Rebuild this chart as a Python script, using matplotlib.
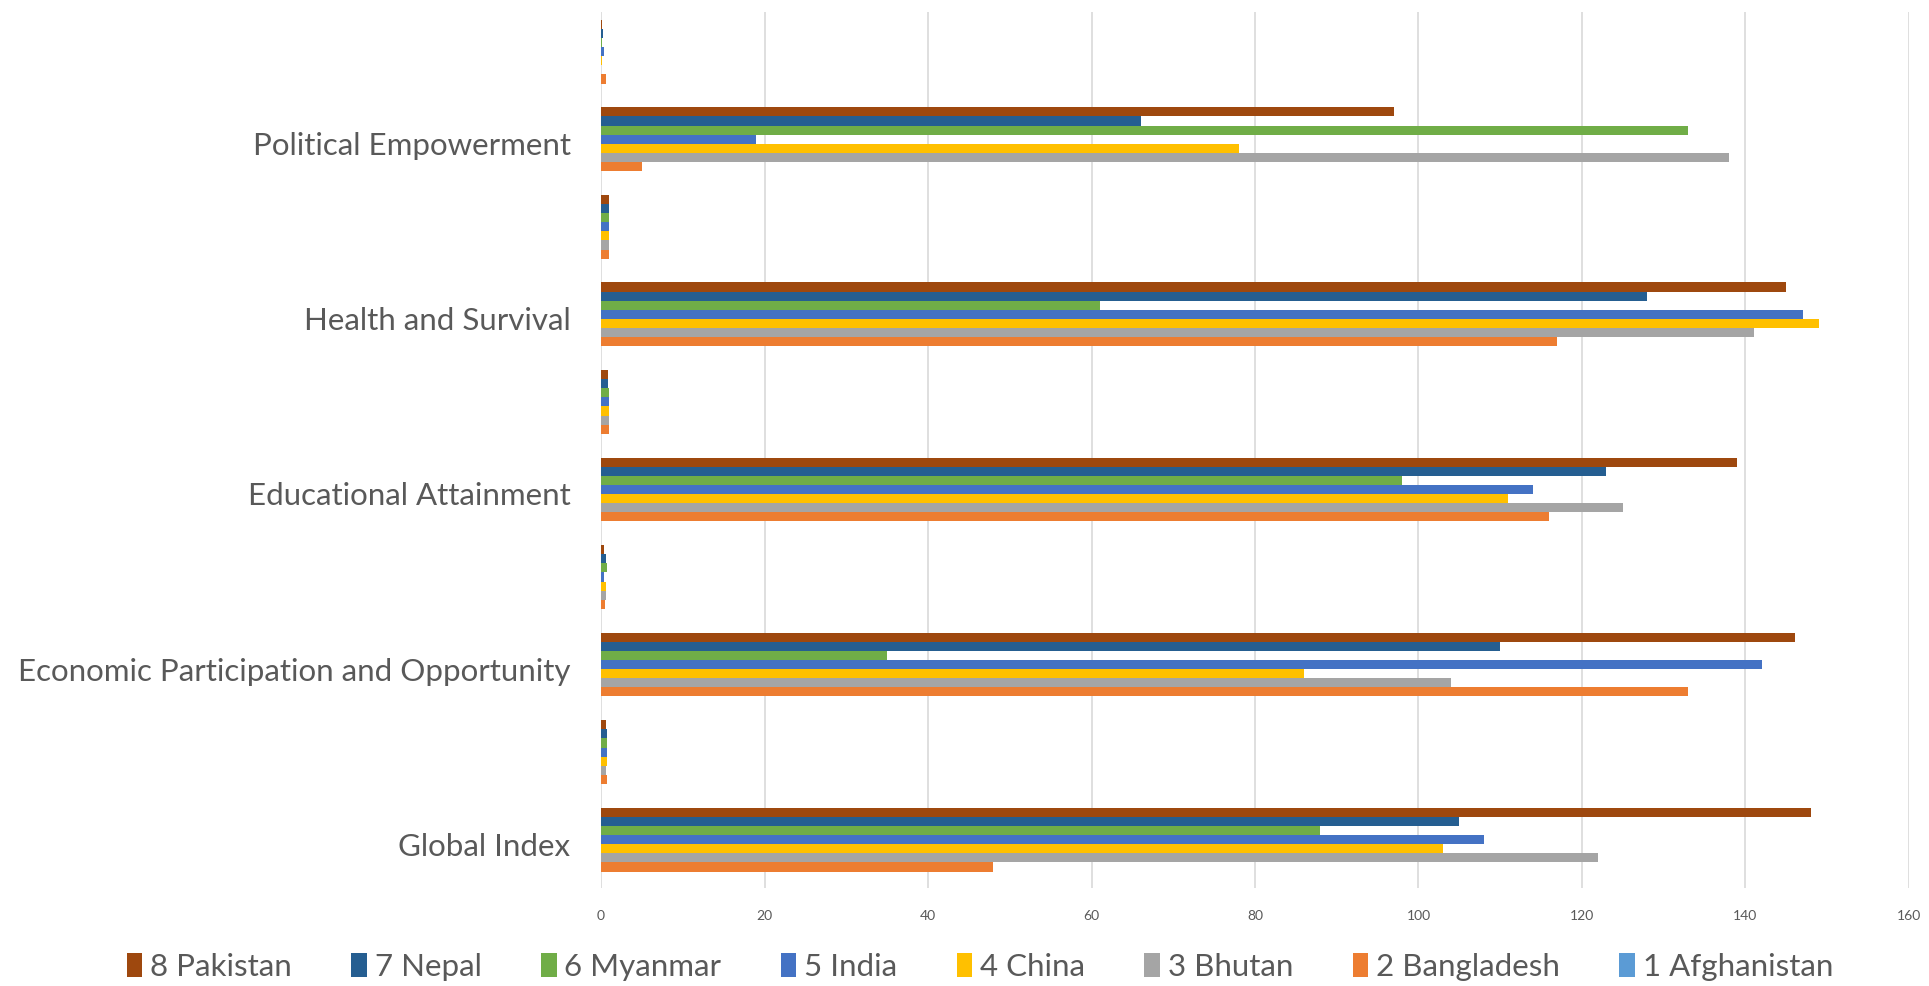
import numpy as np
import matplotlib
matplotlib.use("Agg")
import matplotlib.pyplot as plt
from matplotlib.patches import Patch

plt.rcParams['font.family'] = ['Lato', 'DejaVu Sans']

# Sub-index categories, bottom to top
categories = ["Global Index", "Economic Participation and Opportunity",
              "Educational Attainment", "Health and Survival",
              "Political Empowerment"]

countries = ["1 Afghanistan", "2 Bangladesh", "3 Bhutan", "4 China",
             "5 India", "6 Myanmar", "7 Nepal", "8 Pakistan"]

colors = ["#5B9BD5", "#ED7D31", "#A5A5A5", "#FFC000",
          "#4472C4", "#70AD47", "#255E91", "#9E480E"]

# Rank per category (Global, Economic, Education, Health, Political)
rank_afghanistan = [0, 0, 0, 0, 0]
rank_bangladesh = [48, 133, 116, 117, 5]
rank_bhutan = [122, 104, 125, 141, 138]
rank_china = [103, 86, 111, 149, 78]
rank_india = [108, 142, 114, 147, 19]
rank_myanmar = [88, 35, 98, 61, 133]
rank_nepal = [105, 110, 123, 128, 66]
rank_pakistan = [148, 146, 139, 145, 97]

# Score per category (same order)
score_afghanistan = [0, 0, 0, 0, 0]
score_bangladesh = [0.72, 0.44, 0.95, 0.97, 0.55]
score_bhutan = [0.64, 0.59, 0.95, 0.96, 0.05]
score_china = [0.67, 0.66, 0.96, 0.92, 0.15]
score_india = [0.67, 0.39, 0.95, 0.94, 0.38]
score_myanmar = [0.69, 0.74, 0.97, 0.97, 0.08]
score_nepal = [0.67, 0.59, 0.89, 0.97, 0.18]
score_pakistan = [0.55, 0.32, 0.80, 0.95, 0.13]

ranks = [rank_afghanistan, rank_bangladesh, rank_bhutan, rank_china,
         rank_india, rank_myanmar, rank_nepal, rank_pakistan]
scores = [score_afghanistan, score_bangladesh, score_bhutan, score_china,
          score_india, score_myanmar, score_nepal, score_pakistan]

fig = plt.figure(figsize=(19.29, 9.86), dpi=100)
ax = fig.add_axes([0.3116, 0.0994, 0.678, 0.8880])

n_series = len(countries)
bar_h = 0.104
rows = np.arange(2 * len(categories))  # rank row, then score row, per category

for i, (name, col) in enumerate(zip(countries, colors)):
    values = []
    for r, s in zip(ranks[i], scores[i]):
        values.extend([r, s])
    offset = (i - (n_series - 1) / 2) * bar_h
    ax.barh(rows + offset, values, height=bar_h, color=col,
            edgecolor="none", label=name, zorder=3)

ax.set_xlim(0, 160)
ax.set_ylim(-0.5, len(rows) - 0.5)
ax.set_xticks(np.arange(0, 161, 20))
ax.set_yticks(rows[::2])
ax.set_yticklabels(categories)

ax.grid(axis="x", color="#D9D9D9", linewidth=1.2, zorder=0)
for sp in ax.spines.values():
    sp.set_visible(False)
ax.tick_params(axis="both", length=0)
ax.tick_params(axis="x", labelsize=10, labelcolor="#595959", pad=16)
ax.tick_params(axis="y", labelsize=22.5, labelcolor="#595959", pad=22)

handles = [Patch(facecolor=c, edgecolor="none") for c in colors]
leg = fig.legend(handles[::-1], countries[::-1], loc="center",
                 bbox_to_anchor=(0.508, 0.019), ncol=n_series, frameon=False,
                 fontsize=22.5, handlelength=0.5, handleheight=0.8,
                 handletextpad=0.25, columnspacing=1.9)
for t in leg.get_texts():
    t.set_color("#595959")

fig.savefig("out.png", dpi=100, facecolor="white")
